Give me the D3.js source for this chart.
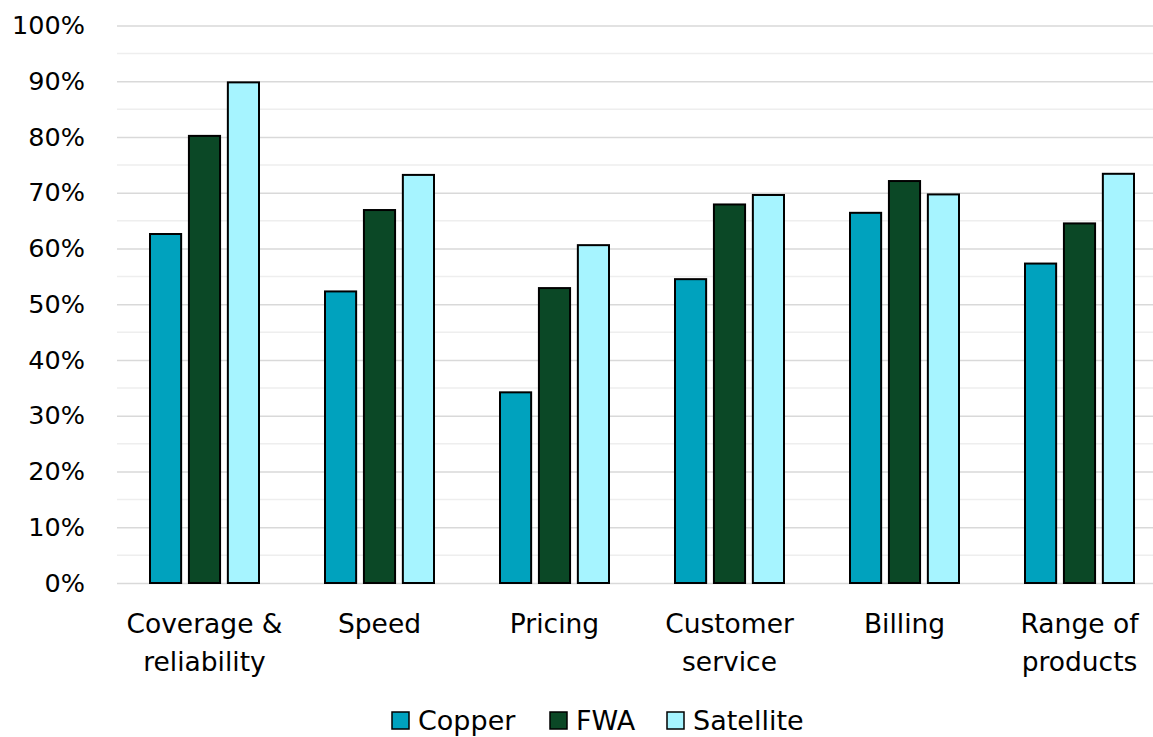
<!DOCTYPE html>
<html>
<head>
<meta charset="utf-8">
<script src="https://cdn.jsdelivr.net/npm/d3@7"></script>
<style>
  html, body { margin: 0; padding: 0; background: #fff; }
  svg { display: block; }
  text { font-family: "DejaVu Sans", "Liberation Sans", Arial, sans-serif; fill: #000; }
</style>
</head>
<body>
<svg id="chart" width="1153" height="737"></svg>
<script>
// Satisfaction by connection type, share of respondents
const categories = [["Coverage &", "reliability"], ["Speed"], ["Pricing"], ["Customer", "service"], ["Billing"], ["Range of", "products"]];
const seriesNames = ["Copper", "FWA", "Satellite"];
const copper    = [0.626, 0.523, 0.342, 0.545, 0.664, 0.573];
const fwa       = [0.802, 0.669, 0.529, 0.679, 0.721, 0.645];
const satellite = [0.898, 0.732, 0.606, 0.696, 0.697, 0.734];
const yTicks = [0, 0.1, 0.2, 0.3, 0.4, 0.5, 0.6, 0.7, 0.8, 0.9, 1.0];
const colors = ["#00A2BE", "#0B4826", "#A6F4FF"];

const FONT = "'DejaVu Sans', 'Liberation Sans', Arial, sans-serif";
const svg = d3.select("#chart");
const plotLeft = 117, plotRight = 1167, plotTop = 25.5, plotBottom = 583;

const keys = categories.map((c, i) => i);
const x0 = d3.scaleBand().domain(keys).range([plotLeft, plotRight]).paddingInner(0).paddingOuter(0);
const x1 = d3.scaleBand().domain(seriesNames).range([33, 142]).paddingInner(0.2).paddingOuter(0);
const y = d3.scaleLinear().domain([0, 1]).range([plotBottom, plotTop]);

// minor gridlines every 5%
const minor = d3.range(0.05, 1, 0.1);
svg.append("g").selectAll("line").data(minor).join("line")
  .attr("x1", plotLeft).attr("x2", plotRight)
  .attr("y1", d => y(d)).attr("y2", d => y(d))
  .attr("stroke", "#eeeeee").attr("stroke-width", 1.5);

// y axis with major gridlines
const yAxis = d3.axisLeft(y).tickValues(yTicks).tickFormat(d3.format(".0%"))
  .tickSize(-(plotRight - plotLeft)).tickPadding(32);
const gy = svg.append("g").attr("transform", `translate(${plotLeft},0)`).call(yAxis);
gy.select(".domain").remove();
gy.selectAll(".tick line").attr("stroke", "#d9d9d9").attr("stroke-width", 1.5);
gy.selectAll(".tick text").attr("font-size", 25.5).style("font-family", FONT).attr("fill", "#000");

const data = [copper, fwa, satellite];
const groups = svg.append("g").selectAll("g").data(keys).join("g")
  .attr("transform", d => `translate(${x0(d)},0)`);
groups.selectAll("rect")
  .data(i => seriesNames.map((s, k) => ({ s, k, v: data[k][i] })))
  .join("rect")
  .attr("x", d => x1(d.s))
  .attr("width", x1.bandwidth())
  .attr("y", d => y(d.v))
  .attr("height", d => y(0) - y(d.v))
  .attr("fill", d => colors[d.k])
  .attr("stroke", "#000").attr("stroke-width", 2);

// category labels
const cx = i => x0(i) + x0.bandwidth() / 2;
const lab = svg.append("g").selectAll("text").data(keys).join("text")
  .attr("x", cx).attr("y", 633).attr("text-anchor", "middle")
  .attr("font-size", 26.5).style("font-family", FONT);
lab.selectAll("tspan").data(i => categories[i].map(t => ({ t, i }))).join("tspan")
  .attr("x", d => cx(d.i)).attr("dy", (d, j) => j === 0 ? 0 : 38).text(d => d.t);

// legend
const legendX = [392, 550, 667];
const lg = svg.append("g").selectAll("g").data(seriesNames).join("g")
  .attr("transform", (d, k) => `translate(${legendX[k]},712)`);
lg.append("rect").attr("width", 17).attr("height", 17)
  .attr("fill", (d, k) => colors[k]).attr("stroke", "#000").attr("stroke-width", 1.5);
lg.append("text").attr("x", 26).attr("y", 18).attr("font-size", 27)
  .style("font-family", FONT).text(d => d);
</script>
</body>
</html>
